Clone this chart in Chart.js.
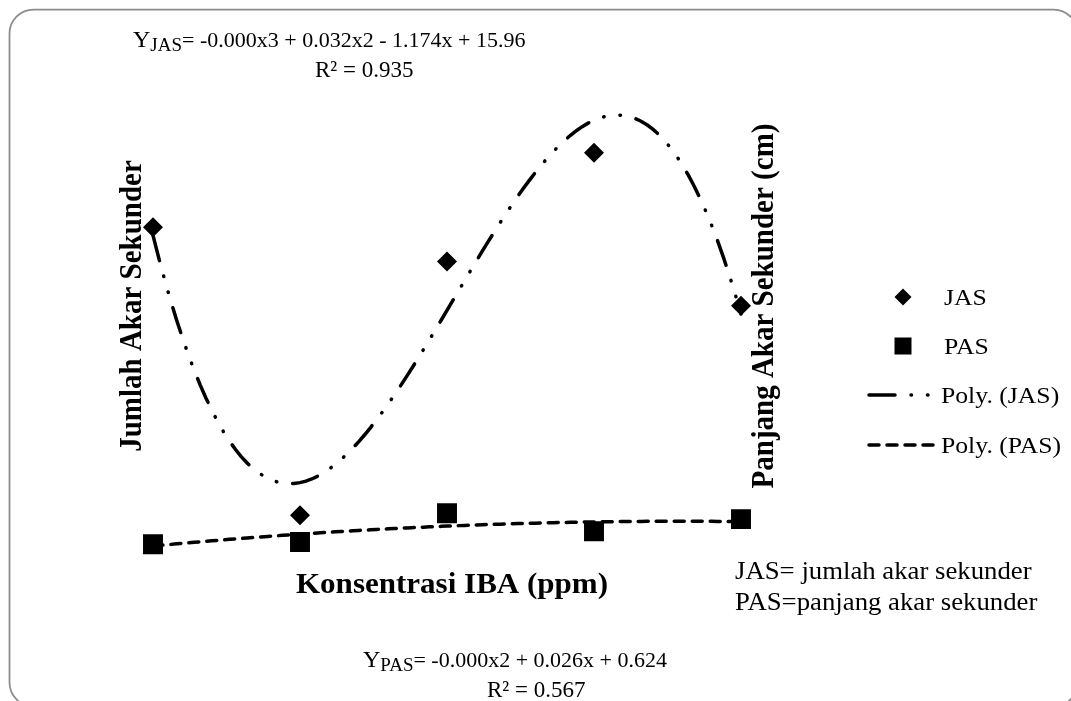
<!DOCTYPE html>
<html>
<head>
<meta charset="utf-8">
<script src="https://cdn.jsdelivr.net/npm/chart.js@4.4.0/dist/chart.umd.min.js"></script>
<style>
  html, body { margin: 0; padding: 0; background: #fff; overflow: hidden; }
  canvas { display: block; }
</style>
</head>
<body>
<canvas id="grafikIBA" width="1071" height="701"></canvas>
<script>
// data
const konsentrasi = [0, 25, 50, 75, 100];          // ppm IBA
const jumlahAkar = [16.4, 2.1, 14.7, 20.1, 12.5];  // JAS
const panjangAkar = [0.71, 0.81, 2.17, 1.32, 1.89]; // PAS (cm)
const labelSeri = ['JAS', 'PAS', 'Poly. (JAS)', 'Poly. (PAS)'];
const judulX = 'Konsentrasi IBA (ppm)';
const judulY = 'Jumlah Akar Sekunder';
const judulY2 = 'Panjang Akar Sekunder (cm)';
const persamaanJAS = ['JAS', '= -0.000x3 + 0.032x2 - 1.174x + 15.96', 'R² = 0.935'];
const persamaanPAS = ['PAS', '= -0.000x2 + 0.026x + 0.624', 'R² = 0.567'];
const keterangan = ['JAS= jumlah akar sekunder', 'PAS=panjang akar sekunder'];

const SERIF = '"Liberation Serif", "Times New Roman", serif';

// regresi polinomial (kuadrat terkecil), seperti trendline Excel
function polyfit(xs, ys, derajat) {
  const n = derajat + 1;
  const A = [];
  for (let i = 0; i < n; i++) {
    const baris = [];
    for (let j = 0; j < n; j++) {
      baris.push(xs.reduce((s, x) => s + Math.pow(x, i + j), 0));
    }
    baris.push(xs.reduce((s, x, k) => s + Math.pow(x, i) * ys[k], 0));
    A.push(baris);
  }
  for (let c = 0; c < n; c++) {
    let p = c;
    for (let r = c + 1; r < n; r++) if (Math.abs(A[r][c]) > Math.abs(A[p][c])) p = r;
    [A[c], A[p]] = [A[p], A[c]];
    for (let r = 0; r < n; r++) {
      if (r === c) continue;
      const f = A[r][c] / A[c][c];
      for (let k = c; k <= n; k++) A[r][k] -= f * A[c][k];
    }
  }
  return A.map((baris, i) => baris[n] / baris[i]);
}

function garisTren(xs, ys, derajat) {
  const koef = polyfit(xs, ys, derajat);
  const titik = [];
  const x0 = xs[0], x1 = xs[xs.length - 1];
  for (let x = x0; x <= x1 + 1e-9; x += 1) {
    titik.push({ x: x, y: koef.reduce((s, a, i) => s + a * Math.pow(x, i), 0) });
  }
  return titik;
}

// regang: teks di gambar asli sedikit melebar
function tulis(ctx, teks, x, y, font, align, regang) {
  const sx = regang || 1;
  ctx.save();
  ctx.font = font;
  ctx.textAlign = align || 'left';
  ctx.textBaseline = 'alphabetic';
  ctx.fillStyle = '#000';
  ctx.translate(x, y);
  ctx.scale(sx, 1);
  ctx.fillText(teks, 0, 0);
  const lebar = ctx.measureText(teks).width * sx;
  ctx.restore();
  return lebar;
}

function tulisTegak(ctx, teks, x, y, font) {
  ctx.save();
  ctx.font = font;
  ctx.textAlign = 'center';
  ctx.textBaseline = 'middle';
  ctx.fillStyle = '#000';
  ctx.translate(x, y);
  ctx.rotate(-Math.PI / 2);
  ctx.scale(1, 1.07);
  ctx.fillText(teks, 0, 0);
  ctx.restore();
}

function tulisPersamaan(ctx, isi, x, y1, xR, y2) {
  let w = tulis(ctx, 'Y', x, y1, '24px ' + SERIF);
  w += tulis(ctx, isi[0], x + w, y1 + 4, '19px ' + SERIF);
  tulis(ctx, isi[1], x + w, y1, '22px ' + SERIF);
  tulis(ctx, isi[2], xR, y2, '23px ' + SERIF);
}

const pluginTeks = {
  id: 'pluginTeks',
  beforeDraw(chart) {
    const ctx = chart.ctx;
    ctx.save();
    ctx.strokeStyle = '#8c8c8c';
    ctx.lineWidth = 1.75;
    ctx.beginPath();
    ctx.roundRect(9.5, 9.5, 1068, 697, 24);
    ctx.stroke();
    ctx.restore();
  },
  afterDraw(chart) {
    const ctx = chart.ctx;
    tulisPersamaan(ctx, persamaanJAS, 133, 47, 315, 77);
    tulisPersamaan(ctx, persamaanPAS, 363, 667, 487, 697);

    tulisTegak(ctx, judulY, 133, 306, 'bold 29px ' + SERIF);
    tulisTegak(ctx, judulY2, 765, 306, 'bold 29px ' + SERIF);
    tulis(ctx, judulX, 452, 593, 'bold 29px ' + SERIF, 'center', 1.07);

    // legenda
    const ds = chart.data.datasets;
    const barisY = [297, 346, 395, 445];
    ds.forEach((d, i) => {
      const y = barisY[i];
      ctx.save();
      ctx.fillStyle = '#000';
      ctx.strokeStyle = '#000';
      if (d.pointStyle === 'rectRot') {
        ctx.beginPath();
        ctx.moveTo(903 - 8.5, y); ctx.lineTo(903, y - 8.5);
        ctx.lineTo(903 + 8.5, y); ctx.lineTo(903, y + 8.5);
        ctx.closePath(); ctx.fill();
      } else if (d.pointStyle === 'rect') {
        ctx.fillRect(903 - 8.5, y - 8.5, 17, 17);
      } else {
        ctx.lineWidth = d.borderWidth;
        ctx.lineCap = d.borderCapStyle;
        ctx.setLineDash(d.borderDash);
        ctx.beginPath();
        ctx.moveTo(869, y); ctx.lineTo(939, y);
        ctx.stroke();
      }
      ctx.restore();
      tulis(ctx, d.label, i < 2 ? 944 : 941, y + 8, '24px ' + SERIF, 'left', 1.07);
    });

    tulis(ctx, keterangan[0], 735, 579, '25px ' + SERIF, 'left', 1.07);
    tulis(ctx, keterangan[1], 735, 610, '25px ' + SERIF, 'left', 1.07);
  }
};

const grafik = new Chart(document.getElementById('grafikIBA'), {
  type: 'scatter',
  data: {
    datasets: [
      {
        label: labelSeri[0],
        data: konsentrasi.map((x, i) => ({ x: x, y: jumlahAkar[i] })),
        yAxisID: 'y',
        pointStyle: 'rectRot',
        pointRadius: 10,
        pointBackgroundColor: '#000',
        pointBorderWidth: 0,
        borderColor: '#000'
      },
      {
        label: labelSeri[1],
        data: konsentrasi.map((x, i) => ({ x: x, y: panjangAkar[i] })),
        yAxisID: 'y2',
        pointStyle: 'rect',
        pointRadius: 14.1,
        pointBackgroundColor: '#000',
        pointBorderWidth: 0,
        borderColor: '#000'
      },
      {
        label: labelSeri[2],
        data: garisTren(konsentrasi, jumlahAkar, 3),
        yAxisID: 'y',
        showLine: true,
        pointRadius: 0,
        borderColor: '#000',
        borderWidth: 3.5,
        borderCapStyle: 'round',
        borderDash: [26, 16, 0.5, 16, 0.5, 16]
      },
      {
        label: labelSeri[3],
        data: garisTren(konsentrasi, panjangAkar, 2),
        yAxisID: 'y2',
        showLine: true,
        pointRadius: 0,
        borderColor: '#000',
        borderWidth: 3.5,
        borderCapStyle: 'round',
        borderDash: [10, 8]
      }
    ]
  },
  options: {
    responsive: false,
    animation: false,
    layout: { padding: { left: 123.6, right: 300.6, top: 34, bottom: 63 } },
    scales: {
      x: { type: 'linear', min: -5, max: 105, display: false },
      y: { min: -4, max: 26, display: false },
      y2: { position: 'right', min: -3.7, max: 24.7, display: false }
    },
    plugins: {
      legend: { display: false },
      tooltip: { enabled: false }
    }
  },
  plugins: [pluginTeks]
});
</script>
</body>
</html>
